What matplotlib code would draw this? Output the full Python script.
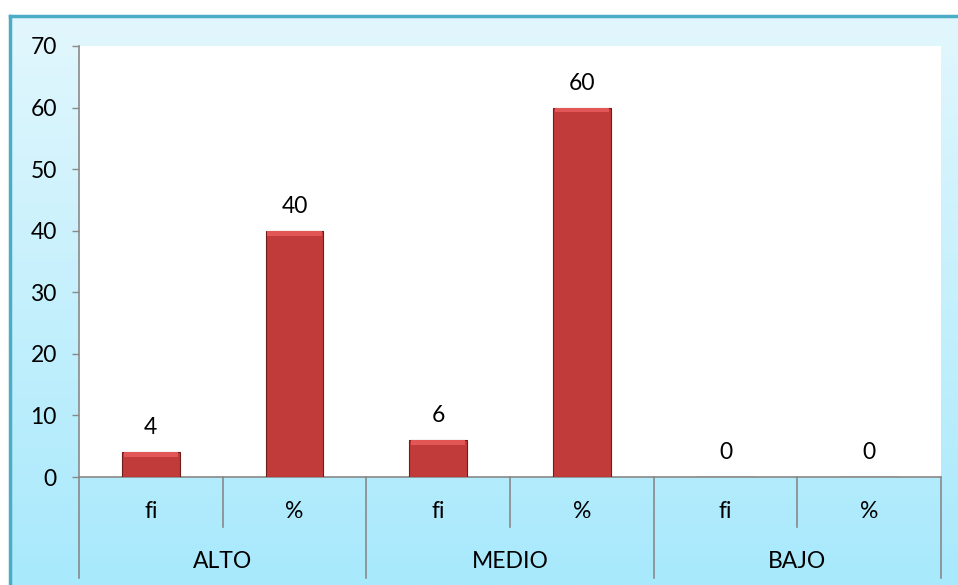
import matplotlib
matplotlib.use("Agg")
import matplotlib.pyplot as plt
import numpy as np
from matplotlib.colors import LinearSegmentedColormap
from matplotlib.lines import Line2D
from matplotlib.patches import Rectangle

groups = ["ALTO", "MEDIO", "BAJO"]
subcats = ["fi", "%", "fi", "%", "fi", "%"]
values = [4, 40, 6, 60, 0, 0]
yticks = [0, 10, 20, 30, 40, 50, 60, 70]

plt.rcParams['font.family'] = ['Lato', 'DejaVu Sans']
FS = 16.5

W, H = 958, 585
fig = plt.figure(figsize=(W/100, H/100), dpi=100)
fig.patch.set_facecolor('white')

# background frame with vertical gradient
fx0, fy_top = 10, 16
bg = fig.add_axes([fx0/W, 0, 1 - fx0/W, (H - fy_top)/H])
cmap = LinearSegmentedColormap.from_list('bg', ['#e2f7fd', '#a8e9fc'])
grad = np.linspace(0, 1, 256).reshape(-1, 1)
bg.imshow(grad, aspect='auto', cmap=cmap, extent=[0, 1, 0, 1], origin='upper')
bg.set_xlim(0, 1); bg.set_ylim(0, 1)
bg.axis('off')
fig.add_artist(Line2D([fx0/W, fx0/W], [0, (H - fy_top)/H], color='#4bacc6', lw=2.5))
fig.add_artist(Line2D([fx0/W, 1], [(H - fy_top)/H, (H - fy_top)/H], color='#4bacc6', lw=2.5))

# plot area
L, R, T, B = 79, 941, 46, 477
ax = fig.add_axes([L/W, (H - B)/H, (R - L)/W, (B - T)/H])
ax.set_facecolor('white')
x = np.arange(len(values))
bars = ax.bar(x, values, width=0.4, color='#c23b3b', edgecolor='#6e1c1c', linewidth=0.8, zorder=3)
# bevel highlight at top of each bar
for b, v in zip(bars, values):
    if v > 0:
        h = min(v, 0.8)
        ax.add_patch(Rectangle((b.get_x() + 0.01, v - h), b.get_width() - 0.02, h,
                               facecolor='#e35656', edgecolor='none', zorder=4))
for xi, v in zip(x, values):
    ax.annotate(str(v), (xi, v), xytext=(0, 10), textcoords='offset points',
                ha='center', va='bottom', fontsize=FS, color='black')

ax.set_xlim(-0.5, 5.5)
ax.set_ylim(0, 70)
ax.set_yticks(yticks)
ax.tick_params(axis='y', length=5, width=1, color='#898989', labelsize=FS, pad=11)
ax.set_xticks([])
for s in ['top', 'right']:
    ax.spines[s].set_visible(False)
for s in ['left', 'bottom']:
    ax.spines[s].set_color('#898989')
    ax.spines[s].set_linewidth(1.2)

ah = B - T
def ay(px):
    return (B - px) / ah

trans = ax.get_xaxis_transform()
for xi, lab in zip(x, subcats):
    ax.text(xi, ay(512), lab, transform=trans, ha='center', va='center', fontsize=FS)
for gi, g in enumerate(groups):
    ax.text(2*gi + 0.5, ay(562), g, transform=trans, ha='center', va='center', fontsize=FS)
for xs in [0.5, 2.5, 4.5]:
    ax.plot([xs, xs], [0, ay(527)], transform=trans, color='#898989', lw=1.2, clip_on=False)
for xs in [-0.5, 1.5, 3.5, 5.5]:
    ax.plot([xs, xs], [0, ay(578)], transform=trans, color='#898989', lw=1.2, clip_on=False)

fig.savefig('out.png', dpi=100)
